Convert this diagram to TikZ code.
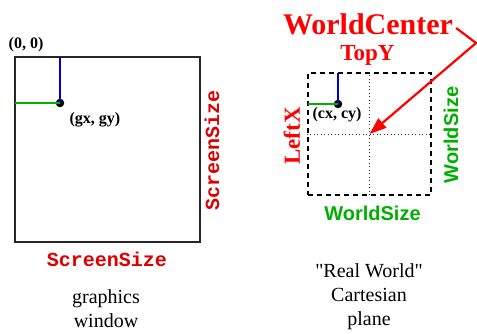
\documentclass[tikz,border=0pt]{standalone}
\usepackage{fontspec}
\setmainfont{Liberation Serif}
\setsansfont{Liberation Sans}
\setmonofont{Liberation Mono}
\usetikzlibrary{arrows.meta}
\definecolor{scrred}{RGB}{220,0,0}
\definecolor{wred}{RGB}{255,0,0}
\definecolor{wgreen}{RGB}{0,175,0}
\definecolor{wblue}{RGB}{0,0,210}
\tikzset{
  frame/.style={draw=black!85, line width=2pt},
  worldframe/.style={draw=black, line width=2.2pt, dash pattern=on 5pt off 4pt},
  axisline/.style={draw=black!80, line width=0.9pt, dash pattern=on 1pt off 2.5pt},
  hline/.style={draw=wgreen, line width=2.7pt},
  vline/.style={draw=wblue, line width=2.7pt},
  pt/.style={circle, fill=black, inner sep=0pt, minimum size=8.5pt},
  coordlbl/.style={inner sep=0pt, font=\fontsize{16}{18}\selectfont\bfseries},
  monolbl/.style={inner sep=0pt, text=scrred, font=\fontsize{20}{22}\selectfont\ttfamily\bfseries},
  redlbl/.style={inner sep=0pt, text=wred, font=\fontsize{23}{25}\selectfont\bfseries},
  greenlbl/.style={inner sep=0pt, text=wgreen, font=\fontsize{20}{22}\selectfont\sffamily\bfseries},
  caption/.style={inner sep=0pt, align=center, font=\fontsize{20}{24}\selectfont},
  pointer/.style={draw=wred, line width=2.2pt, -{Triangle[length=17pt,width=12pt]}}
}
\begin{document}
\begin{tikzpicture}[x=1pt,y=-1pt]
\useasboundingbox (0,0) rectangle (477,333);

% graphics window
\node[frame, minimum width=185pt, minimum height=185pt, inner sep=0pt] (win) at (107.5,149.5) {};
\node[pt] (g) at (60,103) {};
\coordinate (gtop) at (60,57);
\coordinate (gleft) at (15,103);
\draw[vline] (gtop) -- (g.center);
\draw[hline] (gleft) -- (g.center);
\node[coordlbl] (origin) at (26,45) {(0, 0)};
\node[coordlbl] (glbl) at (95,120) {(gx, gy)};
\node[monolbl, rotate=90] (ssr) at (212,150) {ScreenSize};
\node[monolbl] (ssb) at (107,259) {ScreenSize};
\node[caption] (cap1) at (106,309) {graphics\\window};

% world plane
\node[worldframe, minimum width=123pt, minimum height=122pt, inner sep=0pt] (world) at (369.5,134) {};
\draw[axisline] (world.north) -- (world.south);
\draw[axisline] (world.west) -- (world.east);
\node[pt] (c) at (338,104) {};
\coordinate (ctop) at (338,73);
\coordinate (cleft) at (308,104);
\draw[vline] (ctop) -- (c.center);
\draw[hline] (cleft) -- (c.center);
\node[coordlbl] (clbl) at (337,115) {(cx, cy)};
\node[redlbl] (topy) at (367.5,55) {TopY};
\node[redlbl, rotate=90] (leftx) at (292,136) {LeftX};
\node[greenlbl, rotate=90] (wsr) at (451,135) {WorldSize};
\node[greenlbl] (wsb) at (372.5,213) {WorldSize};
\node[inner sep=0pt, text=wred, font=\fontsize{30}{32}\selectfont\bfseries] (wc) at (368,24) {WorldCenter};
\node[caption] (cap2) at (369,297) {\textquotedbl Real World\textquotedbl\\Cartesian\\plane};

% pointer to the world centre
\coordinate (bend) at (476,43);
\draw[pointer] (wc.east) ++(3,4) -- (bend) -- (world.center);
\end{tikzpicture}
\end{document}
